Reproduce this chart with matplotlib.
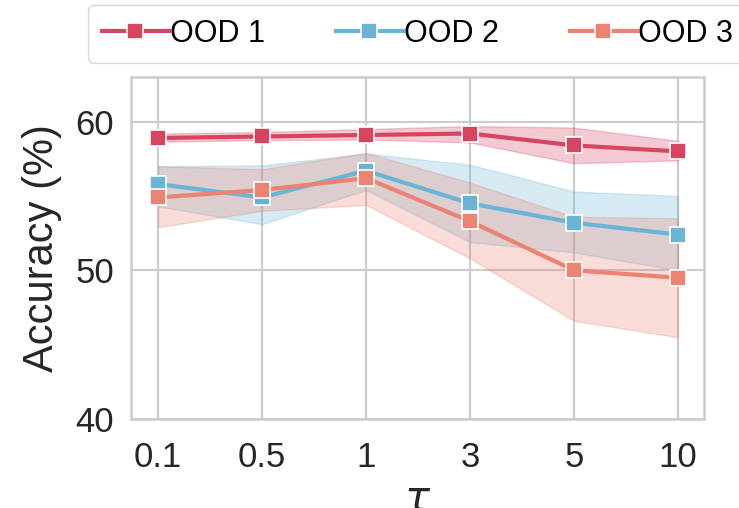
import matplotlib
matplotlib.use("Agg")
import matplotlib.pyplot as plt
import numpy as np

taus = ["0.1", "0.5", "1", "3", "5", "10"]

ood1 = [58.9, 59.0, 59.1, 59.2, 58.4, 58.0]
ood1_lo = [58.65, 58.75, 58.8, 58.6, 57.2, 57.4]
ood1_hi = [59.2, 59.3, 59.5, 59.7, 59.6, 58.7]

ood2 = [55.8, 54.9, 56.7, 54.5, 53.2, 52.4]
ood2_lo = [54.3, 53.1, 55.4, 51.9, 51.2, 50.0]
ood2_hi = [57.0, 57.05, 57.85, 57.1, 55.3, 55.0]

ood3 = [54.9, 55.4, 56.2, 53.3, 50.0, 49.5]
ood3_lo = [52.9, 54.0, 54.4, 50.8, 46.6, 45.5]
ood3_hi = [57.0, 56.8, 57.9, 55.9, 53.6, 53.5]

series = [
    ("OOD 1", ood1, ood1_lo, ood1_hi, "#d6445f"),
    ("OOD 2", ood2, ood2_lo, ood2_hi, "#6cb4d6"),
    ("OOD 3", ood3, ood3_lo, ood3_hi, "#ec8272"),
]

plt.rcParams["font.family"] = ["Liberation Sans", "DejaVu Sans"]

fig = plt.figure(figsize=(7.39, 5.08), dpi=100)
ax = fig.add_axes([0.1773, 0.1752, 0.7753, 0.6732])
x = np.arange(len(taus))

handles = []
for name, mean, lo, hi, col in series:
    ax.fill_between(x, lo, hi, color=col, alpha=0.28, linewidth=1.0, zorder=1)
    h, = ax.plot(x, mean, color=col, lw=3, marker="s", markersize=11,
                 markeredgecolor="white", markeredgewidth=1.2, label=name, zorder=3)
    handles.append(h)

ax.set_xticks(x)
ax.set_xticklabels(taus)
ax.set_yticks([40, 50, 60])
ax.set_xlim(-0.26, 5.25)
ax.set_ylim(40, 63)
ax.grid(True, color="#cccccc", lw=1.5, zorder=0)
ax.set_axisbelow(True)
for s in ax.spines.values():
    s.set_color("#cccccc")
    s.set_linewidth(1.8)
ax.tick_params(axis="x", length=0, labelsize=25, colors="#262626", pad=16)
ax.tick_params(axis="y", length=0, labelsize=25, colors="#262626", pad=12)
ax.set_ylabel("Accuracy (%)", fontsize=30, color="#262626", labelpad=10)
ax.set_xlabel(r"$\tau$", fontsize=30, color="#262626", labelpad=4)

fig.legend(handles=handles, loc="upper left", bbox_to_anchor=(0.119, 0.99), ncol=3,
           fontsize=22, frameon=True, edgecolor="#cccccc", fancybox=True,
           handlelength=2.2, columnspacing=2.3, handletextpad=0.05, borderpad=0.45,
           borderaxespad=0.0)

fig.savefig("out.png", dpi=100)
